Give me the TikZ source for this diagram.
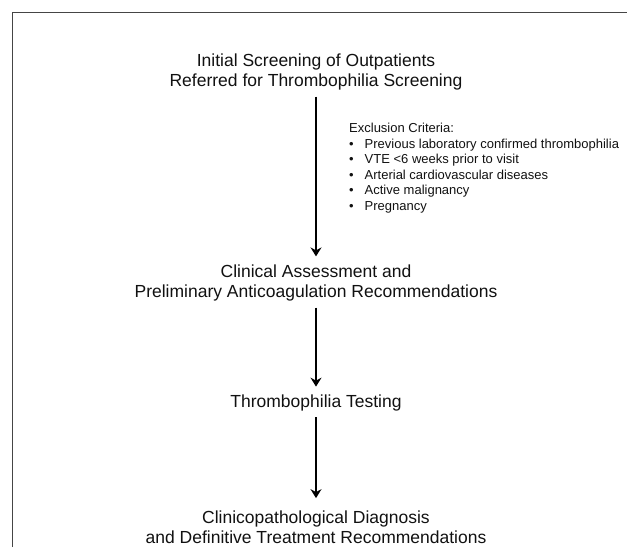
\documentclass[tikz,border=0pt]{standalone}
\usepackage{fontspec}
\setmainfont{Liberation Sans}
\usepackage{xcolor}
\definecolor{frameGray}{HTML}{454545}
\definecolor{darkText}{HTML}{111111}
\usetikzlibrary{
    arrows.meta,
    positioning
}
\tikzset{
    % Base style for the flow stages
    stage/.style={
        font=\fontsize{17.5}{20.5}\selectfont,
        align=center,
        text=darkText,
        inner sep=0pt,
    },
    % Exclusion list beside the first arrow
    criteria/.style={
        font=\fontsize{13}{15.5}\selectfont,
        align=left,
        text=darkText,
        inner sep=0pt,
        anchor=north west,
    },
    % Plain black arrow
    arrow/.style={
        -{Stealth[length=9pt, width=11pt, inset=3pt]},
        line width=1.5pt,
        draw=black,
        shorten >=8pt,
        shorten <=6pt,
    },
}
\newcommand{\critem}{\makebox[15.5pt][l]{\textbullet}}

\begin{document}
\begin{tikzpicture}[x=1pt, y=-1pt, node distance=120pt]
    \useasboundingbox (0,0) rectangle (627,547);
    % frame, cut off at the right and at the bottom
    \draw [frameGray, line width=1pt] (12.5,547) -- (12.5,12.5) -- (627,12.5);

    \node (screen) [stage] at (316,72) {Initial Screening of Outpatients\\Referred for Thrombophilia Screening};
    \node (assess) [stage, below of=screen, node distance=211pt] {Clinical Assessment and\\Preliminary Anticoagulation Recommendations};
    \node (testing) [stage, below of=assess] {Thrombophilia Testing};
    \node (diagnosis) [stage, below of=testing, node distance=124pt] {Clinicopathological Diagnosis\\and Definitive Treatment Recommendations};

    \node (exclude) [criteria] at (349,123) {Exclusion Criteria:\\
        \critem Previous laboratory confirmed thrombophilia\\
        \critem VTE <6 weeks prior to visit\\
        \critem Arterial cardiovascular diseases\\
        \critem Active malignancy\\
        \critem Pregnancy};

    \draw [arrow] (screen) -- (assess);
    \draw [arrow] (assess) -- (testing);
    \draw [arrow, shorten >=12pt] (testing) -- (diagnosis);
\end{tikzpicture}
\end{document}
